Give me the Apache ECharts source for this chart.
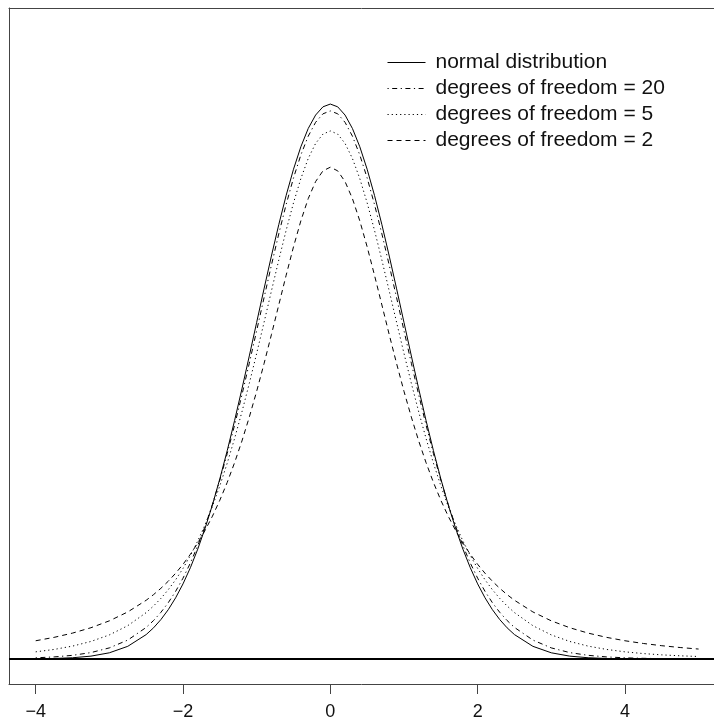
<!DOCTYPE html>
<html>
<head>
<meta charset="utf-8">
<script src="https://cdn.jsdelivr.net/npm/echarts@6/dist/echarts.min.js"></script>
<style>html,body{margin:0;padding:0;background:#fff;}#c{width:714px;height:721px;}</style>
</head>
<body>
<div id="c"></div>
<script>
var xs = [-4,-3.75,-3.5,-3.25,-3,-2.75,-2.5,
  -2.4,-2.3,-2.2,-2.1,-2.0,-1.9,-1.8,-1.7,-1.6,-1.5,-1.4,-1.3,-1.2,-1.1,-1.0,-0.9,-0.8,-0.7,-0.6,-0.5,-0.4,-0.3,-0.2,-0.1,
  0,
  0.1,0.2,0.3,0.4,0.5,0.6,0.7,0.8,0.9,1.0,1.1,1.2,1.3,1.4,1.5,1.6,1.7,1.8,1.9,2.0,2.1,2.2,2.3,2.4,
  2.5,2.75,3,3.25,3.5,3.75,4,4.25,4.5,4.75,5];

var normalVals = [0.00013,0.00035,0.00087,0.00203,0.00443,0.00909,0.01753,
  0.02239,0.02833,0.03547,0.04398,0.05399,0.06562,0.07895,0.09405,0.11092,0.12952,0.14973,0.17137,0.19419,0.21785,0.24197,0.26609,0.28969,0.31225,0.33322,0.35207,0.36827,0.38139,0.39104,0.39695,
  0.39894,
  0.39695,0.39104,0.38139,0.36827,0.35207,0.33322,0.31225,0.28969,0.26609,0.24197,0.21785,0.19419,0.17137,0.14973,0.12952,0.11092,0.09405,0.07895,0.06562,0.05399,0.04398,0.03547,0.02833,0.02239,
  0.01753,0.00909,0.00443,0.00203,0.00087,0.00035,0.00013,0.00005,0.00002,0.00001,0.000002];

var df20Vals = [0.00082,0.00147,0.00261,0.00459,0.00796,0.01358,0.02267,
  0.02763,0.03353,0.04048,0.04863,0.05809,0.06899,0.08143,0.09550,0.11124,0.12863,0.14763,0.16810,0.18987,0.21263,0.23605,0.25968,0.28304,0.30559,0.32669,0.34581,0.36237,0.37585,0.38581,0.39193,
  0.39399,
  0.39193,0.38581,0.37585,0.36237,0.34581,0.32669,0.30559,0.28304,0.25968,0.23605,0.21263,0.18987,0.16810,0.14763,0.12863,0.11124,0.09550,0.08143,0.06899,0.05809,0.04863,0.04048,0.03353,0.02763,
  0.02267,0.01358,0.00796,0.00459,0.00261,0.00147,0.00082,0.00046,0.00025,0.00014,0.00008];

var df5Vals = [0.00512,0.00685,0.00924,0.01259,0.01729,0.02394,0.03333,
  0.03809,0.04355,0.04981,0.05694,0.06509,0.07434,0.08481,0.09660,0.10982,0.12452,0.14074,0.15848,0.17766,0.19814,0.21968,0.24195,0.26449,0.28677,0.30814,0.32792,0.34538,0.35983,0.37064,0.37734,
  0.37961,
  0.37734,0.37064,0.35983,0.34538,0.32792,0.30814,0.28677,0.26449,0.24195,0.21968,0.19814,0.17766,0.15848,0.14074,0.12452,0.10982,0.09660,0.08481,0.07434,0.06509,0.05694,0.04981,0.04355,0.03809,
  0.03333,0.02394,0.01729,0.01259,0.00924,0.00685,0.00512,0.00387,0.00295,0.00227,0.00176];

var df2Vals = [0.01309,0.01553,0.01859,0.02246,0.02741,0.03381,0.04220,
  0.04626,0.05081,0.05590,0.06162,0.06804,0.07526,0.08337,0.09248,0.10270,0.11413,0.12690,0.14108,0.15673,0.17388,0.19245,0.21230,0.23313,0.25450,0.27582,0.29630,0.31501,0.33096,0.34321,0.35092,
  0.35355,
  0.35092,0.34321,0.33096,0.31501,0.29630,0.27582,0.25450,0.23313,0.21230,0.19245,0.17388,0.15673,0.14108,0.12690,0.11413,0.10270,0.09248,0.08337,0.07526,0.06804,0.06162,0.05590,0.05081,0.04626,
  0.04220,0.03381,0.02741,0.02246,0.01859,0.01553,0.01309,0.01113,0.00953,0.00822,0.00713];

var seriesNames = ['normal distribution','degrees of freedom = 20','degrees of freedom = 5','degrees of freedom = 2'];
var tickValues = [-4,-2,0,2,4];

function pairs(v){ return xs.map(function(x,i){ return [x, v[i]]; }); }

var FONT = '"Liberation Sans", Arial, Helvetica, sans-serif';
var BOX = '#444';
var XMIN = -4.3625, XMAX = 5.209;
var chart = echarts.init(document.getElementById('c'), null, {renderer:'canvas'});
var styles = [
  {type:'solid'},
  {type:[1.2,3.5,5,3.5]},
  {type:[1.2,3]},
  {type:[5,4]}
];
var allVals = [normalVals, df20Vals, df5Vals, df2Vals];
var series = allVals.map(function(v, k){
  return {
    name: seriesNames[k], type:'line', data: pairs(v), symbol:'none', smooth:false,
    lineStyle:{color:'#000', width:1, type: styles[k].type},
    itemStyle:{color:'#000'}, z: 3
  };
});
series[0].markLine = {
  silent:true, symbol:'none', label:{show:false},
  lineStyle:{color:'#000', width:2, type:'solid'},
  data:[{yAxis:0}]
};

chart.setOption({
  animation:false,
  backgroundColor:'#fff',
  textStyle:{fontFamily:FONT},
  grid:{left:9, top:8, right:0, bottom:36, show:false, containLabel:false},
  legend:{
    orient:'vertical', left:387, top:52, padding:0,
    itemWidth:38, itemHeight:21, itemGap:5,
    itemStyle:{opacity:0, color:'transparent', borderWidth:0},
    lineStyle:{width:1, color:'#000'},
    textStyle:{fontFamily:FONT, fontSize:21, color:'#111', lineHeight:21, padding:[0,0,0,5]},
    data: seriesNames
  },
  xAxis:[{
    type:'value', min:XMIN, max:XMAX, position:'bottom',
    axisLine:{show:true, onZero:false, lineStyle:{color:BOX, width:1}},
    splitLine:{show:false},
    axisTick:{show:true, customValues:tickValues, length:10, inside:false, lineStyle:{color:BOX, width:1}},
    axisLabel:{show:true, customValues:tickValues, margin:19, fontSize:18, color:'#111', fontFamily:FONT,
      formatter:function(v){ return String(v).replace('-', '\u2212'); }}
  },{
    type:'value', min:XMIN, max:XMAX, position:'top',
    axisLine:{show:true, onZero:false, lineStyle:{color:BOX, width:1}},
    splitLine:{show:false}, axisTick:{show:false}, axisLabel:{show:false}
  }],
  yAxis:{
    type:'value', min:-0.018, max:0.468, position:'left',
    axisLine:{show:true, onZero:false, lineStyle:{color:BOX, width:1}},
    axisTick:{show:false}, axisLabel:{show:false},
    splitLine:{show:false}
  },
  series: series
});
</script>
</body>
</html>
